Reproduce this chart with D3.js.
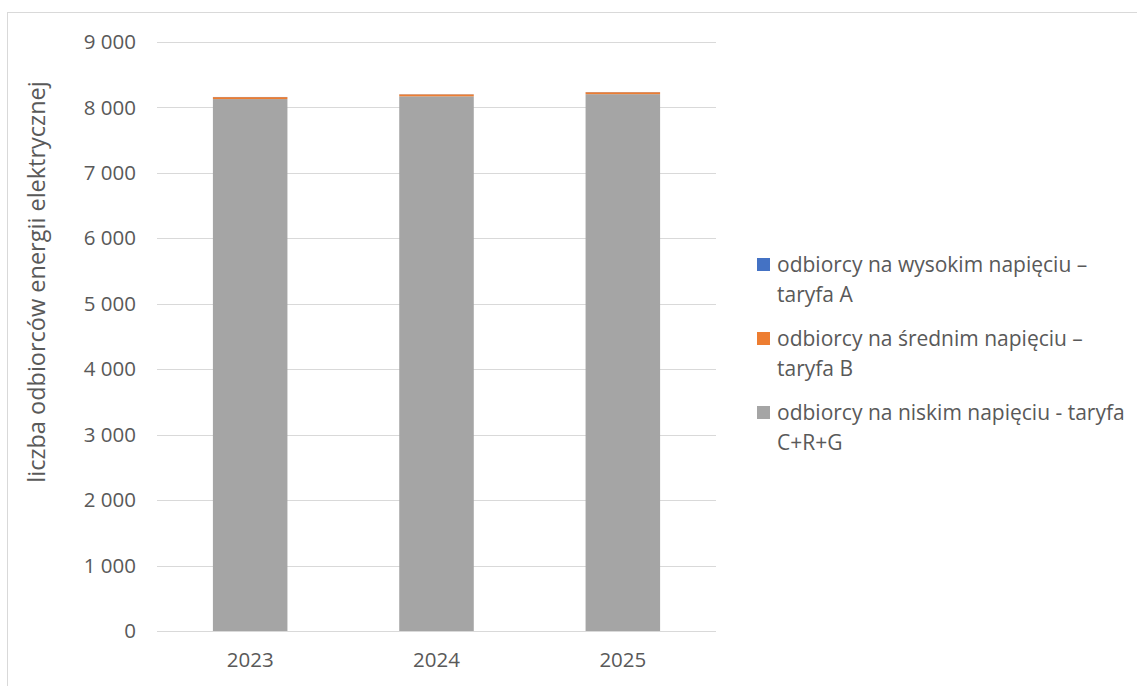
<!DOCTYPE html>
<html>
<head>
<meta charset="utf-8">
<script src="https://cdn.jsdelivr.net/npm/d3@7"></script>
<style>
  body { margin: 0; background: #fff; }
  svg text { font-family: "Open Sans", "Noto Sans", sans-serif; fill: #595959; }
</style>
</head>
<body>
<div class="canvas"></div>
<script>
// Data
const years = ['2023', '2024', '2025'];
const seriesNames = [
    'odbiorcy na niskim napięciu - taryfa C+R+G',
    'odbiorcy na średnim napięciu – taryfa B',
    'odbiorcy na wysokim napięciu – taryfa A'
];
const lowVoltage = [8128, 8170, 8203];
const mediumVoltage = [30, 30, 30];
const highVoltage = [2, 2, 2];
const yTicks = [0, 1000, 2000, 3000, 4000, 5000, 6000, 7000, 8000, 9000];
const colors = ['#a5a5a5', '#ed7d31', '#4472c4'];

// Legend entries (top to bottom), each split in two lines
const legendLines = [
    ['odbiorcy na wysokim napięciu –', 'taryfa A'],
    ['odbiorcy na średnim napięciu –', 'taryfa B'],
    ['odbiorcy na niskim napięciu - taryfa', 'C+R+G']
];
const legendColors = ['#4472c4', '#ed7d31', '#a5a5a5'];

const dims = {
    width: 1137,
    height: 686,
    left: 157,
    right: 716,
    top: 42,
    bottom: 631
};

const svg = d3.select('.canvas')
    .append('svg')
    .attr('width', dims.width)
    .attr('height', dims.height);

// Chart border
svg.append('rect')
    .attr('x', 7.5)
    .attr('y', 12.5)
    .attr('width', 1200)
    .attr('height', 800)
    .attr('fill', 'none')
    .attr('stroke', '#d9d9d9');

// Scales
const xScale = d3.scaleBand()
    .domain(years)
    .range([dims.left, dims.right])
    .paddingInner(0.6)
    .paddingOuter(0.3);

const yScale = d3.scaleLinear()
    .domain([0, 9000])
    .range([dims.bottom, dims.top]);

// Gridlines
svg.append('g')
    .selectAll('line')
    .data(yTicks)
    .enter()
    .append('line')
        .attr('x1', dims.left)
        .attr('x2', dims.right)
        .attr('y1', d => Math.round(yScale(d)) + 0.5)
        .attr('y2', d => Math.round(yScale(d)) + 0.5)
        .attr('stroke', '#d9d9d9')
        .attr('stroke-width', 1);

// Y axis labels
const fmt = d => d3.format(',')(d).replace(/,/g, ' ');
const yAxis = d3.axisLeft(yScale)
    .tickValues(yTicks)
    .tickSize(0)
    .tickPadding(21)
    .tickFormat(fmt);
const yAxisGroup = svg.append('g')
    .attr('transform', `translate(${dims.left}, 0)`)
    .call(yAxis);
yAxisGroup.select('.domain').remove();
yAxisGroup.selectAll('text')
    .attr('font-size', 20.5)
    .style('font-family', '"Open Sans", sans-serif');

// Stacked bars
const table = years.map((y, i) => ({
    year: y,
    low: lowVoltage[i],
    medium: mediumVoltage[i],
    high: highVoltage[i]
}));
const stack = d3.stack().keys(['low', 'medium', 'high'])(table);

svg.append('g')
    .selectAll('g')
    .data(stack)
    .enter()
    .append('g')
        .attr('fill', (d, i) => colors[i])
    .selectAll('rect')
    .data(d => d)
    .enter()
    .append('rect')
        .attr('x', d => xScale(d.data.year))
        .attr('width', xScale.bandwidth())
        .attr('y', d => yScale(d[1]))
        .attr('height', d => yScale(d[0]) - yScale(d[1]));

// X axis line
svg.append('line')
    .attr('x1', dims.left)
    .attr('x2', dims.right)
    .attr('y1', dims.bottom + 0.5)
    .attr('y2', dims.bottom + 0.5)
    .attr('stroke', '#d9d9d9');

const xAxis = d3.axisBottom(xScale).tickSize(0).tickPadding(21);
const xAxisGroup = svg.append('g')
    .attr('transform', `translate(0, ${dims.bottom})`)
    .call(xAxis);
xAxisGroup.select('.domain').remove();
xAxisGroup.selectAll('text')
    .attr('font-size', 20.5)
    .style('font-family', '"Open Sans", sans-serif');

// Y axis title
svg.append('text')
    .attr('transform', 'translate(45, 282) rotate(-90)')
    .attr('text-anchor', 'middle')
    .attr('font-size', 23.5)
    .text('liczba odbiorców energii elektrycznej');

// Legend
const legend = svg.append('g')
    .selectAll('g')
    .data(legendLines)
    .enter()
    .append('g')
        .attr('transform', (d, i) => `translate(757, ${258 + i * 74})`);

legend.append('rect')
    .attr('width', 13)
    .attr('height', 13)
    .attr('y', 0)
    .attr('fill', (d, i) => legendColors[i]);

legend.append('text')
    .attr('x', 20)
    .attr('y', 14)
    .attr('font-size', 21)
    .selectAll('tspan')
    .data(d => d)
    .enter()
    .append('tspan')
        .attr('x', 20)
        .attr('dy', (d, i) => i === 0 ? 0 : 30)
        .text(d => d);
</script>
</body>
</html>
